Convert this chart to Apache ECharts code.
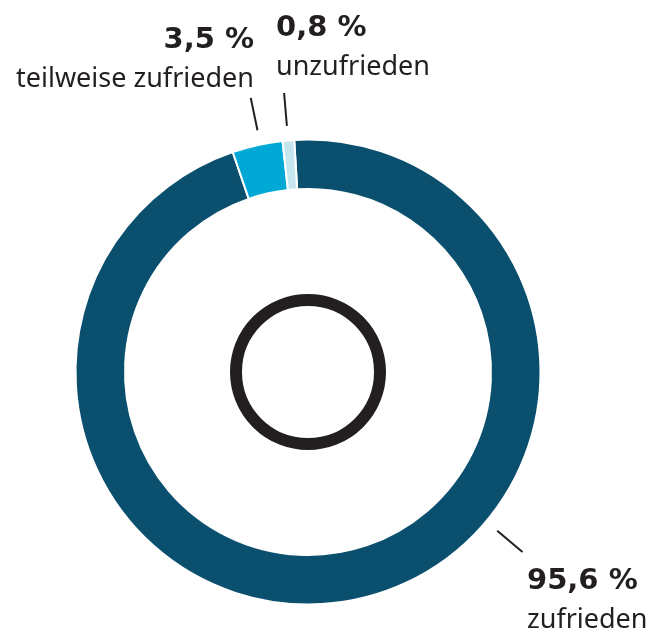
<!DOCTYPE html>
<html>
<head>
<meta charset="utf-8">
<script src="https://cdn.jsdelivr.net/npm/echarts@6/dist/echarts.min.js"></script>
<style>
    html, body { margin: 0; padding: 0; background: #fff; }
    #main { width: 651px; height: 633px; }
</style>
</head>
<body>
<div id="main"></div>
<script>
    // data
    var categories = ['zufrieden', 'teilweise zufrieden', 'unzufrieden'];
    var percents = [95.6, 3.5, 0.8];
    var valueLabels = ['95,6 %', '3,5 %', '0,8 %'];
    var colors = ['#0a4f6e', '#00a9d5', '#c6e6ef'];

    var cx = 308, cy = 372;
    // where each label block sits and at which angle its leader line is (deg, clockwise from top)
    var labelPos = [[527, 561, 'left'], [254, 20, 'right'], [276, 8, 'left']];
    var leaderAngle = [130, -11.8, -4.9];

    function polar(r, deg) {
        var a = deg * Math.PI / 180;
        return [cx + r * Math.sin(a), cy - r * Math.cos(a)];
    }

    var myChart = echarts.init(document.getElementById('main'));
    var option = {
        animation: false,
        graphic: [{
            type: 'circle',
            shape: { cx: cx, cy: cy, r: 72 },
            style: { fill: 'none', stroke: '#231f20', lineWidth: 12 },
            silent: true
        }],
        series: [{
            type: 'pie',
            center: [cx, cy],
            radius: [183, 232.5],
            startAngle: 93.4,
            clockwise: true,
            avoidLabelOverlap: false,
            emphasis: { disabled: true },
            itemStyle: { borderColor: '#fff', borderWidth: 2 },
            label: {
                show: true,
                position: 'outside',
                color: '#231f20',
                fontFamily: 'Noto Sans',
                formatter: function (p) {
                    return '{v|' + valueLabels[p.dataIndex] + '}\n{n|' + p.name + '}';
                },
                rich: {
                    v: { fontSize: 29, fontWeight: 'bold', fontFamily: 'DejaVu Sans', color: '#231f20', lineHeight: 40 },
                    n: { fontSize: 27, fontFamily: 'Noto Sans', color: '#231f20', lineHeight: 38 }
                }
            },
            labelLine: { show: true, lineStyle: { color: '#231f20', width: 2 } },
            labelLayout: function (p) {
                var i = p.dataIndex;
                var a = leaderAngle[i];
                var p1 = polar(247, a), p2 = polar(280, a);
                return {
                    x: labelPos[i][0],
                    y: labelPos[i][1],
                    align: labelPos[i][2],
                    verticalAlign: 'top',
                    labelLinePoints: [p1, p1, p2]
                };
            },
            data: categories.map(function (c, i) {
                return { name: c, value: percents[i], itemStyle: { color: colors[i] } };
            })
        }]
    };
    myChart.setOption(option);
</script>
</body>
</html>
